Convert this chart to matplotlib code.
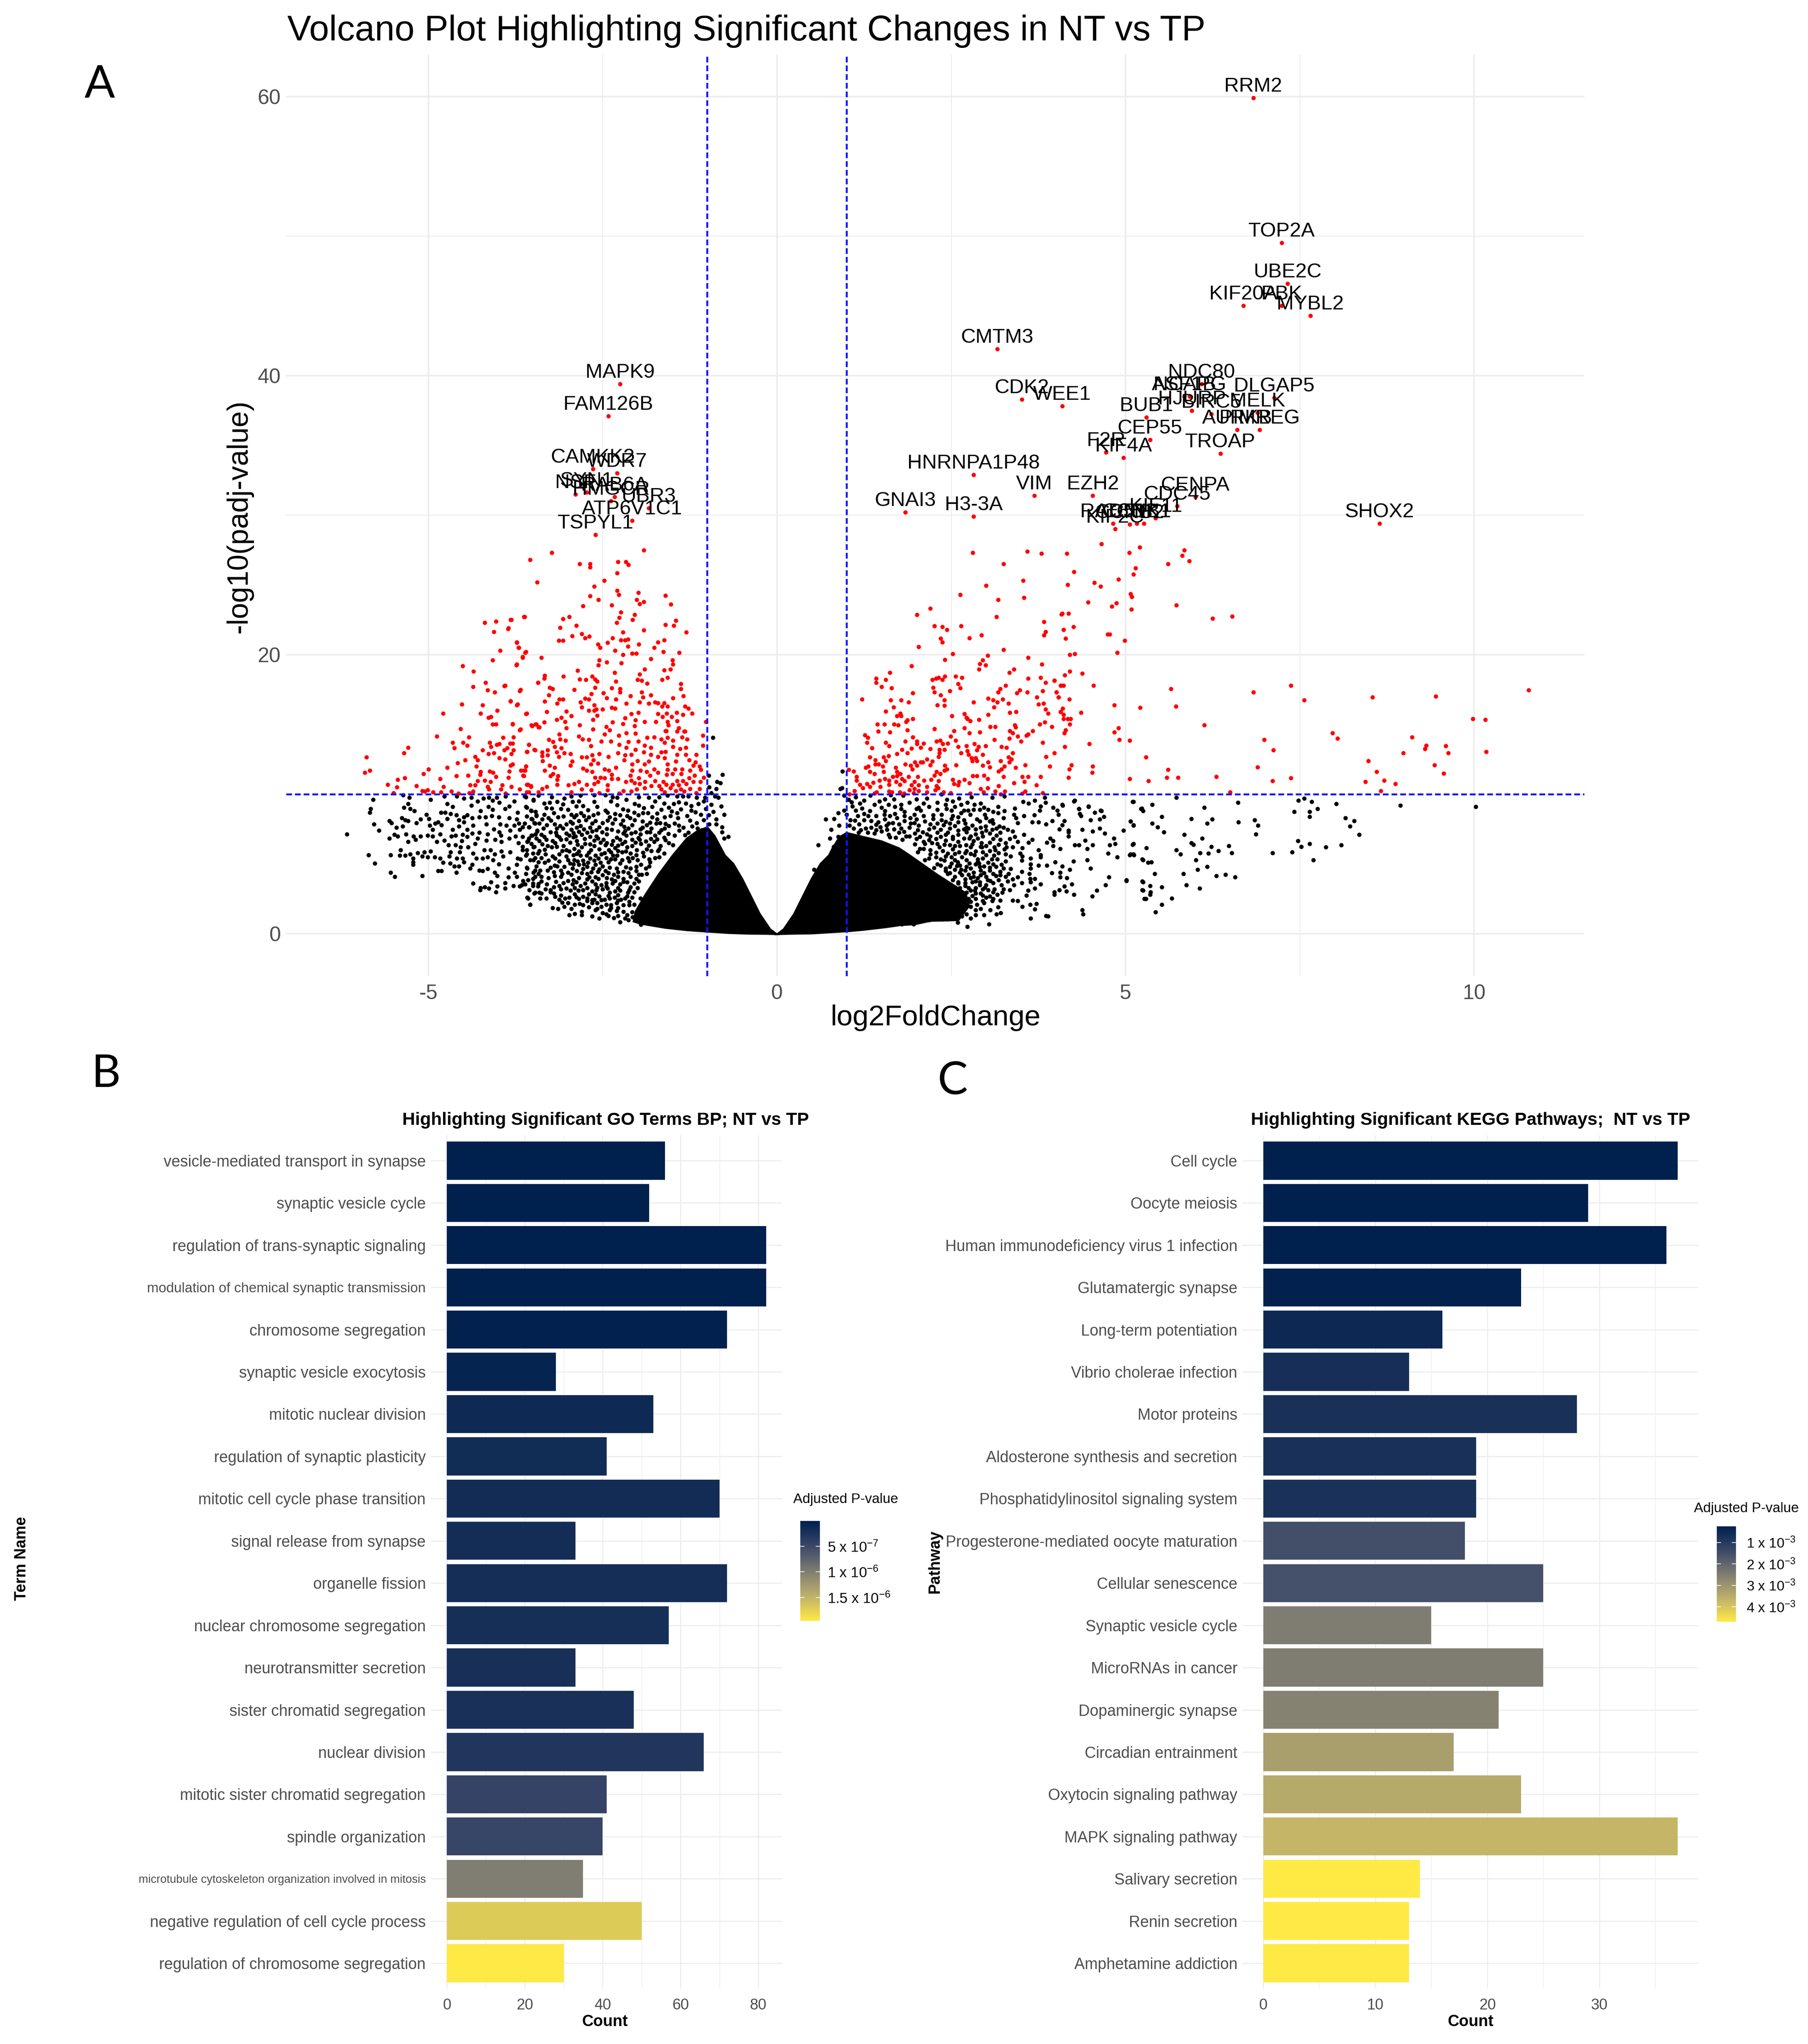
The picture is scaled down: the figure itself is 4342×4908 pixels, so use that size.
import numpy as np
import matplotlib
matplotlib.use("Agg")
import matplotlib.pyplot as plt
from matplotlib.colors import LinearSegmentedColormap, Normalize
from matplotlib.cm import ScalarMappable

W, H = 4342, 4908
DPI = 300
plt.rcParams['font.family'] = ['Liberation Sans', 'DejaVu Sans']
plt.rcParams['mathtext.fontset'] = 'custom'
plt.rcParams['mathtext.rm'] = 'Liberation Sans'
plt.rcParams['mathtext.default'] = 'regular'

# ---------- volcano data ----------
gene_names = ["RRM2","TOP2A","UBE2C","PBK","KIF20A","MYBL2","CMTM3","NDC80","NCAPG","ASF1B","HJURP","BIRC5","MELK","DLGAP5",
              "BUB1","AURKB","PIMREG","CEP55","TROAP","F2R","KIF4A","HNRNPA1P48","VIM","EZH2","CENPA","CDC45","KIF11","RAD51",
              "KIF2C","CCNB2","CCNB1","CDK1","GNAI3","H3-3A","SHOX2","WEE1","CDK2",
              "MAPK9","FAM126B","CAMKK2","WDR7","SYN1","NSF","RAB6A","HMGCR","UBR3","ATP6V1C1","TSPYL1"]
gene_x = [6.83,7.24,7.32,7.24,6.69,7.65,3.16,6.09,5.92,5.84,5.95,6.23,6.89,7.13,
          5.3,6.6,6.92,5.35,6.36,4.72,4.97,2.82,3.69,4.53,6.0,5.74,5.43,4.82,
          4.85,5.06,5.16,5.26,1.84,2.82,8.64,4.09,3.51,
          -2.25,-2.42,-2.64,-2.29,-2.73,-2.89,-2.33,-2.38,-1.84,-2.08,-2.6]
gene_y = [59.9,49.5,46.6,45.0,45.0,44.3,41.9,39.4,38.5,38.5,37.5,37.25,37.35,38.4,
          37.0,36.1,36.1,35.4,34.4,34.5,34.1,32.9,31.4,31.4,31.3,30.65,29.8,29.4,
          29.0,29.35,29.4,29.4,30.2,29.9,29.4,37.8,38.3,
          39.4,37.1,33.3,33.0,31.65,31.5,31.3,31.0,30.5,29.6,28.6]

red_far_left = [(-4.19,22.3),(-4.03,22.4),(-3.81,22.5),(-3.62,22.7),(-4.06,21.65),(-3.85,21.9),(-3.73,20.9),(-3.70,20.5),(-3.97,20.3),(-3.60,20.2),
(-3.65,19.85),(-4.08,19.6),(-3.73,19.3),(-4.51,19.2),(-4.35,18.8),(-4.18,18.0),(-4.36,17.7),(-3.90,17.8),(-4.15,17.45),(-4.05,17.3),(-3.68,17.5),(-3.43,18.0),
(-3.82,16.7),(-4.52,16.45),(-4.22,16.4),(-3.72,16.45),(-4.01,16.0),(-4.79,15.8),(-4.25,15.8),(-3.59,15.8),(-4.14,15.5),(-4.10,15.55),(-4.08,15.0),(-4.03,15.0),
(-3.79,15.0),(-3.51,14.9),(-3.45,15.0),(-3.41,14.8),(-4.54,14.7),(-3.68,14.65),(-4.88,14.15),(-4.42,14.1),(-3.93,14.05),(-3.78,14.1),(-4.65,13.7),(-4.50,13.7),
(-4.44,13.5),(-4.63,13.3),(-4.12,13.7),(-4.10,13.4),(-4.02,13.55),(-3.98,13.6),(-3.83,13.65),(-3.79,13.65),(-3.56,13.55),(-5.29,13.35),(-5.35,12.95),(-5.89,12.65),
(-4.22,13.15),(-4.14,12.9),(-4.06,12.95),(-3.91,13.15),(-3.87,13.3),(-3.81,12.9),(-3.78,13.15),(-3.58,13.05),(-3.47,13.15),(-4.33,12.7),(-4.29,12.45),(-4.47,12.45),
(-4.58,12.25),(-3.98,12.6),(-3.9,12.5),(-4.31,12.0),(-4.73,11.9),(-3.82,12.05),(-3.79,12.15),(-3.6,12.0),(-5.0,11.8),(-5.84,11.7),(-5.91,11.55),(-4.25,11.6),
(-4.12,11.65),(-4.07,11.55),(-3.84,11.65),(-3.67,11.7),(-3.61,11.7),(-5.07,11.45),(-4.6,11.3),(-4.43,11.35),(-4.26,11.4),(-4.03,11.25),(-3.85,11.2),(-3.63,11.3),
(-5.34,11.15),(-5.44,11.05),(-4.83,11.1),(-4.29,10.95),(-4.19,11.0),(-4.11,10.9),(-5.58,10.7),(-4.40,10.65),(-4.33,10.65),(-3.94,10.65),(-3.57,10.7),(-3.53,10.55),
(-5.45,10.5),(-5.17,10.6),(-4.78,10.55),(-4.15,10.55),(-3.81,10.55),(-4.13,10.35),(-3.96,10.35),(-3.69,10.35),(-5.01,10.3),(-5.09,10.25),(-5.5,10.1),(-5.05,10.2),
(-4.93,10.15),(-4.82,10.15),(-4.67,10.2),(-4.36,10.2),(-4.41,10.1),(-4.57,10.05),(-3.89,10.05),(-3.59,10.15)]

red_mid_left = [(-1.91,27.5),(-3.23,27.3),(-3.54,26.8),(-2.83,26.5),(-2.68,26.5),(-2.68,26.25),(-2.28,26.65),(-2.17,26.65),(-2.13,26.45),(-2.29,25.85),(-3.44,25.2),
(-2.48,25.3),(-2.62,24.9),(-2.29,24.6),(-2.27,24.3),(-1.99,24.45),(-2.68,24.2),(-2.56,23.95),(-2.01,23.95),(-1.97,23.65),(-1.91,23.8),(-1.6,24.25),(-1.52,23.6),
(-2.78,23.5),(-2.37,23.55),(-2.24,23.05),(-2.04,22.85),(-2.26,22.65),(-2.07,22.5),(-2.3,22.3),(-1.45,22.45),(-3.63,22.7),(-3.82,22.5),(-2.98,22.7),(-3.07,22.55),
(-2.88,22.1),(-3.11,21.95),(-3.86,21.85),(-1.6,22.15),(-1.48,22.1),(-1.91,21.75),(-1.3,21.6),(-2.21,21.6),(-2.8,21.5),(-2.94,21.35),(-2.69,21.3),(-2.75,21.2),
(-2.36,21.2),(-2.14,21.1),(-2.24,21.05),(-2.18,21.05),(-3.13,21.0),(-3.07,21.0),(-1.62,21.05),(-1.71,20.9),(-2.57,20.75),(-2.43,20.85),(-1.98,20.75),(-2.54,20.5),
(-2.14,20.6),(-1.76,20.5),(-3.73,20.85),(-3.71,20.5),(-3.61,20.15),(-2.32,20.3),(-1.63,20.2),(-1.4,20.15),(-2.08,20.1),(-2.02,20.1),(-2.21,20.0),(-3.38,19.8),
(-3.65,19.8),(-2.55,19.6),(-1.81,19.7),(-1.5,19.6),(-2.56,19.25),(-2.44,19.45),(-2.23,19.4),(-1.49,19.3),(-3.74,19.25),(-1.9,18.95),(-2.86,18.85),(-1.62,18.9),
(-1.53,18.95),(-2.33,18.7),(-1.97,18.6),(-3.33,18.5),(-3.06,18.45),(-2.65,18.44),(-1.57,18.35),(-3.34,18.3),(-2.83,18.25),(-2.74,18.2),(-2.61,18.25),(-2.58,18.1),
(-1.65,18.2),(-2.0,18.2),(-1.94,18.15),(-2.31,18.1),(-1.86,17.95),(-1.38,17.9),(-3.43,18.0),(-3.91,17.75),(-3.26,17.65),(-3.22,17.55),(-2.37,17.6),(-2.25,17.55),
(-2.61,17.65),(-3.69,17.4),(-2.91,17.5),(-1.38,17.55),(-1.94,17.3),(-2.25,17.3),(-2.66,17.2),(-2.49,17.25),(-1.81,17.1),(-1.34,17.05),(-3.27,17.1),(-1.92,16.95),
(-1.49,16.9),(-2.1,17.05),(-2.44,16.9),(-2.75,16.85),(-2.7,16.8),(-2.31,16.8),(-3.12,16.8),(-3.07,16.8),(-3.82,16.65),(-3.33,16.65),(-2.82,16.6),(-3.15,16.5),
(-3.73,16.4),(-2.16,16.5),(-1.97,16.6),(-1.84,16.5),(-1.75,16.6),(-1.71,16.55),(-1.62,16.55),(-1.57,16.3),(-2.62,16.4),(-2.8,16.25),(-1.65,16.3),(-1.32,16.3),
(-1.27,16.15),(-2.5,16.1),(-2.37,16.2),(-2.32,16.15),(-2.62,16.0),(-2.59,16.1),(-2.7,16.0),(-3.3,15.9),(-3.02,15.95),(-1.22,15.8),(-1.35,15.7),(-1.44,15.85),
(-3.6,15.75),(-2.58,15.65),(-2.09,15.75),(-1.99,15.85),(-1.71,15.75),(-1.58,15.8),(-1.64,15.55),(-1.51,15.55),(-2.95,15.6),(-3.09,15.5),(-3.16,15.35),(-2.64,15.35),
(-2.18,15.45),(-2.03,15.3),(-1.9,15.2),(-1.74,15.2),(-1.57,15.2),(-1.43,15.25),(-1.02,15.2),(-3.34,15.15),(-3.04,15.2),(-2.36,15.15),(-2.21,15.05),(-3.79,15.05),
(-3.52,14.95),(-3.46,15.0),(-3.42,14.8),(-2.83,14.95),(-2.45,14.85),(-2.04,14.9),(-1.56,14.95),(-1.41,14.75),(-3.69,14.6),(-3.02,14.75),(-2.64,14.65),(-2.4,14.6),
(-1.6,14.55),(-1.33,14.5)]

red_low_left = [(-3.12,14.3),(-3.56,13.55),(-3.59,13.05),(-3.48,13.2),(-3.37,13.0),(-3.29,13.15),(-3.27,13.9),(-3.21,13.75),(-3.19,13.4),(-3.11,13.95),(-3.03,13.85),
(-3.09,13.3),(-3.05,12.95),(-3.16,13.0),(-3.13,12.7),(-3.37,12.75),(-3.29,12.8),(-2.96,12.9),(-3.36,12.4),(-2.94,12.35),(-2.96,12.05),(-3.26,12.05),(-3.6,12.0),
(-3.19,11.9),(-3.33,11.7),(-3.63,11.7),(-3.64,11.35),(-3.25,11.3),(-3.21,11.45),(-3.14,11.3),(-3.15,11.05),(-3.15,10.7),(-3.59,10.7),(-3.53,10.6),(-3.56,10.15),
(-3.37,10.4),(-3.3,10.55),(-3.42,10.15),(-2.99,10.65),(-2.91,10.75),(-2.84,10.9),(-2.95,10.15),(-2.8,10.35),(-2.73,10.7),(-2.84,14.15),(-2.79,13.95),(-2.7,13.9),
(-2.67,13.45),(-2.8,12.65),(-2.73,12.65),(-2.65,12.8),(-2.55,12.9),(-2.63,12.45),(-2.67,12.15),(-2.57,12.2),(-2.78,11.85),(-2.73,11.7),(-2.65,11.6),(-2.47,11.8),
(-2.41,11.7),(-2.31,11.9),(-2.37,11.4),(-2.61,11.2),(-2.53,11.2),(-2.47,11.15),(-2.37,11.1),(-2.28,11.1),(-2.43,10.65),(-2.62,10.75),(-2.57,10.9),(-2.66,10.3),
(-2.55,10.1),(-2.43,10.3),(-2.47,14.3),(-2.52,13.8),(-2.38,13.8),(-2.42,12.7),(-2.27,14.2),(-2.26,13.55),(-2.28,12.95),(-2.16,14.4),(-2.13,13.75),(-2.03,14.35),
(-1.99,13.8),(-2.16,13.35),(-2.03,13.2),(-1.9,13.5),(-2.18,12.8),(-2.09,12.85),(-2.19,12.45),(-2.0,12.4),(-2.08,12.15),(-1.9,12.15),(-1.84,12.35),(-1.91,13.0),
(-1.81,13.35),(-1.86,14.05),(-1.76,14.1),(-1.66,13.95),(-1.57,14.05),(-1.61,13.7),(-1.49,13.85),(-1.36,14.1),(-1.29,13.95),(-1.43,14.5),(-1.32,14.5),(-1.59,14.55),
(-1.06,14.2),(-1.06,13.5),(-1.49,13.4),(-1.39,13.25),(-1.31,13.35),(-1.6,13.05),(-1.66,13.0),(-1.81,12.85),(-1.71,12.7),(-1.61,12.6),(-1.43,12.85),(-1.31,12.85),
(-1.16,12.85),(-1.45,12.35),(-1.26,12.45),(-1.17,12.3),(-1.57,12.15),(-1.2,12.05),(-1.11,12.0),(-2.08,11.7),(-1.96,11.7),(-2.1,11.35),(-1.87,11.6),(-1.76,11.8),
(-1.57,11.75),(-1.46,11.8),(-1.36,11.8),(-1.25,11.7),(-1.09,11.75),(-1.82,11.35),(-1.71,11.55),(-1.58,11.4),(-1.5,11.45),(-1.37,11.45),(-1.18,11.35),(-1.05,11.2),
(-1.98,11.15),(-2.09,11.0),(-2.17,10.9),(-2.04,10.8),(-1.89,10.9),(-1.75,10.95),(-1.63,10.9),(-1.43,10.95),(-1.35,10.95),(-1.26,11.15),(-1.2,10.9),(-1.1,10.9),
(-1.97,10.75),(-1.8,10.6),(-1.69,10.6),(-1.59,10.7),(-1.5,10.7),(-1.41,10.65),(-1.3,10.75),(-1.9,10.45),(-1.66,10.35),(-1.53,10.45),(-1.38,10.35),(-1.25,10.4),
(-1.11,10.4),(-2.09,10.2),(-2.01,10.35),(-2.2,10.25),(-2.26,10.05),(-1.61,10.15),(-1.45,10.25),(-1.33,10.2),(-1.16,10.1)]

red_inner_right = [(2.81,27.3),(3.59,27.4),(3.79,27.25),(3.25,26.5),(3.53,25.3),(3.0,24.95),(3.54,24.1),(2.63,24.3),(3.17,23.95),(2.2,23.3),(2.01,22.85),(3.15,22.7),
(3.83,22.35),(4.08,22.9),(3.85,21.65),(3.83,21.4),(2.26,22.05),(2.37,22.0),(2.44,21.8),(2.64,22.05),(2.35,21.15),(2.37,20.9),(2.03,20.55),(2.76,21.2),(2.93,21.4),
(3.25,20.35),(2.52,20.05),(3.02,19.95),(3.6,19.8),(2.41,19.65),(2.95,19.6),(2.91,19.35),(2.99,19.25),(3.8,19.3),(1.93,19.2),(2.9,18.95),(3.4,18.95),(3.33,18.7),
(1.62,18.7),(1.42,18.3),(1.42,18.0),(1.56,18.2),(1.5,17.7),(1.64,17.6),(2.23,18.2),(2.28,18.3),(2.32,18.35),(2.37,18.2),(2.41,18.45),(2.56,18.45),(2.65,18.35),
(3.6,18.3),(3.78,18.35),(3.98,18.15),(3.85,18.0),(4.07,17.8),(2.6,17.9),(2.63,17.6),(3.28,17.8),(3.2,17.55),(3.17,17.3),(3.48,17.45),(3.44,17.25),(3.81,17.4),
(3.59,17.3),(4.01,17.3),(4.04,16.95),(2.24,17.65),(2.26,17.3),(2.48,17.4),(2.35,17.1),(1.95,17.25),(1.22,16.8),(1.63,16.75),(1.78,16.75),(1.89,16.6),(2.4,16.75),
(2.3,16.4),(2.4,16.35),(2.82,16.6),(3.03,16.85),(3.1,16.75),(3.16,16.6),(3.24,16.8),(3.32,16.5),(3.73,16.95),(3.75,16.45),(3.82,16.5),(3.85,16.1),(3.11,16.25),
(1.67,16.25),(1.56,15.95),(1.77,15.8),(1.72,15.6),(1.78,15.6),(3.34,15.85),(3.43,15.9),(3.89,15.8),(4.07,15.9),(2.69,15.75),(2.51,15.6),(3.03,15.7),(2.72,15.5),
(2.73,15.4),(2.77,15.25),(2.9,15.35),(1.87,15.3),(1.85,15.2),(1.95,15.4),(1.44,15.0),(1.54,15.0),(1.68,15.0),(1.74,14.95),(3.77,15.0),(3.84,15.15),(3.94,14.85),
(3.41,14.95),(3.42,14.8),(2.26,14.7),(1.87,14.6),(2.69,14.75),(3.06,14.85),(3.13,14.85),(1.45,14.5),(1.62,14.45),(2.54,14.55),(2.76,14.4),(2.91,14.45),(3.34,14.55),
(3.38,14.4),(3.67,14.55),(3.6,14.3),(3.58,14.2),(1.26,14.25),(1.3,14.05),(2.49,14.15),(3.45,14.15),(1.95,14.1),(3.33,14.0),(2.56,13.85),(1.84,13.8),(2.01,13.8),
(2.29,13.8),(2.34,13.85),(3.12,13.9),(3.5,13.8),(1.29,13.7),(1.56,13.7),(2.1,13.65),(2.38,13.6),(2.45,13.65),(2.83,13.6),(3.81,13.7),(2.01,13.6),(1.61,13.45),
(2.99,13.45),(2.6,13.4),(2.72,13.45),(2.89,13.4),(3.22,13.4),(3.29,13.35),(2.06,13.35),(1.36,13.3),(1.93,13.28),(2.2,13.25),(1.79,13.2),(2.33,13.2),(2.4,13.2),
(2.87,13.15),(2.73,13.1),(1.87,12.95),(2.64,12.95),(3.38,12.95),(3.98,12.95),(1.72,12.9),(2.33,12.95),(2.75,12.85),(2.95,12.85),(1.6,12.75),(1.33,12.65),(2.32,12.7),
(1.53,12.65),(3.86,12.7),(2.79,12.6),(2.85,12.6),(3.32,12.65),(1.41,12.45),(1.56,12.4),(2.15,12.5),(2.8,12.4),(2.87,12.4),(3.36,12.5),(3.21,12.4),(1.98,12.3),
(2.06,12.3),(2.09,12.3),(2.23,12.35),(3.03,12.3),(3.33,12.3),(1.41,12.15),(1.46,12.15),(1.84,12.15),(2.01,12.05),(2.2,12.1),(2.57,12.1),(3.56,12.1),(1.92,12.05),
(2.41,12.05),(2.95,12.05),(3.26,12.0),(3.91,12.0),(1.31,12.0),(1.52,12.0),(3.05,11.95),(3.42,11.9),(1.27,11.9),(1.7,11.9),(1.94,11.8),(2.44,11.8),(3.22,11.8),
(3.18,11.65),(1.03,11.75),(1.1,11.65),(1.33,11.6),(1.53,11.6),(1.72,11.6),(2.29,11.6),(2.4,11.7),(2.34,11.45),(1.4,11.45),(1.77,11.45),(2.26,11.35),(2.97,11.35),
(1.14,11.25),(1.66,11.25),(1.72,11.3),(1.89,11.25),(2.02,11.25),(2.81,11.3),(2.87,11.3),(3.25,11.25),(3.52,11.25),(3.6,11.25),(3.78,11.25),(1.61,11.0),(1.55,11.1),
(1.79,11.1),(2.11,11.0),(2.21,11.05),(2.32,10.95),(2.52,11.05),(2.69,11.05),(3.02,11.1),(1.14,11.0),(1.47,11.0),(1.71,10.9),(1.83,10.95),(1.97,10.9),(2.61,10.9),
(1.38,10.85),(3.55,10.9),(1.29,10.75),(3.4,10.8),(2.76,10.8),(1.61,10.7),(1.76,10.7),(1.19,10.7),(2.54,10.75),(1.93,10.65),(2.03,10.65),(2.29,10.6),(2.6,10.65),
(3.72,10.65),(1.33,10.55),(1.48,10.55),(2.15,10.55),(3.18,10.6),(1.23,10.45),(2.92,10.4),(3.02,10.45),(2.31,10.45),(1.97,10.4),(1.9,10.3),(2.27,10.3),(2.03,10.25),
(1.11,10.25),(1.61,10.2),(3.13,10.2),(1.65,10.15),(3.27,10.2),(1.43,10.15),(1.76,10.15),(1.96,10.1),(2.15,10.15),(2.39,10.15),(2.49,10.1),(2.96,10.15),(3.56,10.2),
(3.81,10.1),(3.52,10.05),(2.77,10.05),(1.04,10.0),(1.4,10.05),(1.82,10.05),(3.21,10.0)]

red_outer_right = [(4.65,27.95),(5.2,27.7),(5.05,27.3),(5.84,27.5),(5.81,27.1),(5.91,26.7),(4.16,27.25),(5.61,26.5),(4.26,25.95),(5.14,26.2),(5.11,25.75),(4.9,25.4),
(4.55,25.15),(4.64,24.9),(4.17,25.0),(5.07,24.35),(5.09,24.15),(4.46,23.75),(4.87,23.7),(4.8,23.45),(5.73,23.55),(5.08,23.25),(6.25,22.6),(6.53,22.75),(4.09,22.95),
(4.18,22.95),(4.25,22.0),(4.11,21.8),(4.74,21.45),(4.77,21.45),(4.14,21.15),(4.99,21.0),(4.88,20.15),(4.2,20.0),(4.27,20.05),(4.2,18.8),(4.13,18.55),(4.38,18.65),
(3.98,18.15),(4.08,17.8),(4.11,17.8),(4.54,17.8),(4.01,17.3),(4.04,16.95),(4.19,16.8),(4.84,16.4),(4.1,16.15),(4.07,15.9),(4.11,15.7),(4.36,15.85),(4.11,15.4),
(4.17,15.4),(4.21,15.4),(4.2,15.0),(4.9,14.75),(4.84,14.45),(4.14,14.6),(4.12,14.4),(4.91,13.9),(4.48,13.6),(4.13,13.4),(4.22,12.1),(4.53,12.0),(4.19,11.8),
(4.52,11.55),(4.18,11.2),
(5.65,17.55),(5.21,16.2),(5.72,16.3),(6.83,17.3),(7.37,17.8),(7.56,16.75),(8.54,16.95),(9.45,17.0),(10.78,17.45),(6.13,14.95),(5.06,13.85),(6.99,13.9),(7.12,13.15),
(7.97,14.4),(8.04,14.0),(9.11,14.1),(9.31,13.5),(9.29,13.25),(9.59,13.45),(9.63,12.95),(8.98,12.95),(8.48,12.4),(9.43,12.1),(8.6,11.6),(9.56,11.5),(9.98,15.4),
(10.16,15.35),(10.17,13.05),(5.29,12.65),(5.61,11.75),(5.06,11.1),(5.33,10.95),(5.59,11.2),(5.75,11.2),(6.3,11.25),(6.89,11.95),(7.11,10.95),(7.37,11.15),(8.44,10.9),
(8.71,11.0),(8.87,10.75),(8.66,10.25),(6.5,10.15)]

black_far_left = [(-6.17,7.15),(-5.79,9.6),(-5.83,8.95),(-5.84,8.7),(-5.78,7.85),(-5.71,7.4),(-5.86,5.65),(-5.77,5.05),(-5.54,4.4),(-5.48,4.1),(-5.09,4.15),(-5.54,5.65),
(-5.4,6.0),(-5.41,5.6),(-5.33,5.6),(-5.26,5.7),(-5.15,5.8),(-5.06,5.85),(-4.97,5.9),(-5.22,5.4),(-5.22,5.15),(-5.22,4.95),(-5.09,5.55),(-5.01,5.5),(-4.91,5.5),(-4.83,5.4),
(-4.79,5.1),(-4.69,5.05),(-4.63,4.85),(-4.56,4.85),(-4.6,4.4),(-4.86,4.5),(-4.81,4.5),(-5.56,8.1),(-5.53,7.95),(-5.46,7.6),(-5.37,7.7),(-5.49,7.1),(-5.44,7.0),(-5.56,6.85),
(-5.32,7.15),(-5.29,6.6),(-5.21,7.0),(-5.18,6.75),(-5.11,7.0),(-5.01,7.05),(-4.94,7.0),(-5.38,8.3),(-5.33,8.15),(-5.29,8.1),(-5.17,7.95),(-5.11,8.2),(-5.03,8.55),(-4.99,8.25),
(-4.98,7.75),(-4.94,7.45),(-4.9,7.9),(-4.86,8.0),(-4.81,7.8),(-4.88,6.6),(-4.83,7.15),(-4.77,6.7),(-5.35,9.05),(-5.29,9.3),(-5.26,8.95),(-5.2,8.8),(-5.36,9.95),(-5.27,9.75),
(-4.97,9.6),(-4.77,9.85),(-4.82,8.7),(-4.76,8.7),(-4.68,8.6),(-4.73,8.25),(-4.73,9.3),(-4.65,9.1),(-4.59,9.85),(-4.49,9.7),(-4.38,9.75),(-4.38,9.2),(-4.29,9.5),(-4.21,9.7),
(-4.13,9.75),(-4.08,9.55),(-4.02,9.75),(-3.98,9.4),(-3.89,9.85),(-3.9,8.95),(-3.84,9.15),(-3.77,9.5),(-3.6,9.8),(-3.49,9.55),(-3.59,9.05),(-4.14,9.1),(-4.08,8.9),(-4.25,8.8),
(-3.72,8.7),(-3.52,8.8),(-3.45,8.5),(-4.6,8.5),(-4.44,8.5),(-4.56,8.15),(-4.49,8.35),(-4.37,8.3),(-4.27,8.35),(-4.18,8.35),(-4.09,8.45),(-3.99,8.35),(-3.84,8.3),(-3.73,8.2),
(-3.51,8.2),(-4.49,8.0),(-4.36,7.75),(-4.17,7.85),(-3.97,7.85),(-3.88,7.75),(-3.77,7.75),(-3.7,7.9),(-3.47,7.9),(-4.56,7.7),(-4.65,7.45),(-4.44,7.45),(-4.27,7.25),(-4.06,7.5),
(-3.98,7.3),(-3.83,7.4),(-3.69,7.45),(-3.55,7.65),(-3.44,7.4),(-4.67,7.0),(-4.61,7.05),(-4.51,7.1),(-4.44,6.95),(-4.37,7.2),(-4.15,7.15),(-3.96,7.05),(-3.75,7.0),(-3.51,7.05),
(-4.71,6.35),(-4.52,6.65),(-4.29,6.85),(-4.17,6.7),(-4.04,6.75),(-3.95,6.6),(-3.84,6.85),(-3.71,6.5),(-3.57,6.65),(-4.61,6.35),(-4.43,6.2),(-4.33,6.45),(-4.54,6.2),(-4.2,6.0),
(-4.11,6.0),(-3.95,5.9),(-3.83,5.85),(-3.65,6.0),(-3.49,6.2),(-4.68,5.85),(-4.55,5.85),(-4.36,5.75),(-4.05,5.7),(-3.72,5.4),(-3.59,5.7),(-3.43,5.75),(-4.7,5.55),(-4.59,5.4),
(-4.51,5.4),(-4.31,5.4),(-4.22,5.4),(-4.15,5.5),(-4.07,5.3),(-3.93,5.55),(-3.49,5.3),(-4.49,5.15),(-3.99,5.0),(-3.73,4.95),(-4.37,4.95),(-4.4,4.7),(-4.27,4.55),(-4.22,4.5),
(-4.15,4.65),(-4.05,4.4),(-4.01,4.15),(-3.85,4.7),(-3.58,4.7),(-3.76,4.4),(-3.85,4.05),(-3.73,4.1),(-3.47,4.55),(-3.47,4.1),(-4.36,3.6),(-4.25,3.3),(-4.19,3.35),(-4.13,3.25),
(-4.1,3.7),(-4.01,3.4),(-4.03,3.0),(-4.26,3.15),(-3.9,3.65),(-3.9,3.25),(-3.78,3.45),(-3.69,3.4),(-3.61,3.55),(-3.5,3.45),(-3.57,2.55),(-3.54,2.1),(-3.47,2.95),(-3.41,2.95)]

black_mid_left = [(-3.62,9.85),(-3.49,9.6),(-3.42,9.9),(-3.23,9.8),(-3.05,9.7),(-2.95,9.85),(-2.82,9.9),(-2.62,9.95),(-2.46,9.95),(-2.36,9.8),(-2.29,9.75),(-2.16,9.6),(-1.98,9.8),
(-1.84,9.75),(-1.69,9.8),(-1.57,9.9),(-3.34,9.35),(-3.26,9.4),(-3.15,9.45),(-2.93,9.45),(-2.84,9.5),(-2.62,9.45),(-2.38,9.5),(-2.04,9.3),(-1.98,9.2),(-1.75,9.5),(-3.6,9.1),
(-3.53,8.85),(-3.46,8.75),(-3.23,9.0),(-3.1,8.95),(-3.0,8.9),(-2.88,9.15),(-2.46,8.85),(-2.14,8.85),(-1.79,9.1),(-1.66,8.9),(-1.48,9.3),(-1.55,9.05),(-3.45,8.45),(-3.34,8.55),
(-3.2,8.65),(-2.95,8.55),(-2.81,8.65),(-2.63,8.5),(-2.43,8.7),(-2.32,8.6),(-2.25,8.5),(-2.05,8.7),(-1.92,8.65),(-1.85,8.65),(-3.52,8.25),(-3.28,8.3),(-3.14,8.35),(-2.91,8.35),
(-2.7,8.35),(-2.15,8.45),(-1.79,8.35),(-1.61,8.35),(-3.48,7.95),(-3.41,7.9),(-2.84,8.1),(-2.74,8.15),(-2.32,8.2),(-2.04,8.15),(-1.93,8.05),(-3.19,7.85),(-3.02,7.85),(-2.65,7.9),
(-2.36,7.9),(-2.24,7.85),(-1.68,7.95),(-3.56,7.65),(-3.65,7.65),(-3.35,7.55),(-3.16,7.55),(-2.87,7.6),(-2.55,7.65),(-2.77,7.5),(-2.13,7.55),(-1.93,7.6),(-1.8,7.55),(-3.44,7.35),
(-3.07,7.55),(-2.95,7.45),(-2.65,7.35),(-2.28,7.35),(-2.03,7.3),(-1.61,7.55),(-3.52,7.05),(-3.65,6.95),(-3.34,6.95),(-3.16,7.05),(-2.98,7.05),(-2.89,7.0),(-2.8,7.1),(-2.44,7.15),
(-2.59,7.0),(-2.16,7.05),(-1.82,7.3),(-1.69,7.25),(-3.56,6.85),(-3.41,6.65),(-3.22,6.65),(-3.1,6.75),(-2.87,6.65),(-2.25,6.75),(-1.97,6.75),(-2.08,6.75),(-2.53,6.55),(-2.44,6.5),
(-3.48,6.25),(-3.65,6.25),(-3.29,6.3),(-3.16,6.25),(-2.97,6.55),(-2.75,6.45),(-2.22,6.45),(-1.76,6.6),(-1.95,6.45),(-2.46,6.35),(-3.59,6.0),(-3.41,5.95),(-3.08,5.95),(-2.98,5.9),
(-2.84,5.9),(-2.67,6.0),(-2.32,6.15),(-2.55,6.05),(-1.87,6.05),(-1.69,6.05),(-3.32,5.7),(-3.6,5.6),(-2.82,5.6),(-2.73,5.6),(-2.52,5.7),(-2.38,5.85),(-2.22,5.85),(-2.1,5.75),
(-3.68,5.35),(-3.54,5.3),(-3.42,5.15),(-3.28,5.25),(-3.02,5.55),(-2.91,5.3),(-2.78,5.25),(-2.62,5.25),(-2.32,5.35),(-2.0,5.3),(-1.82,5.15),(-3.19,4.9),(-3.59,4.75),(-3.05,4.8),
(-2.84,4.95),(-2.72,4.8),(-2.5,4.85),(-2.1,4.7),(-3.49,4.4),(-3.29,4.55),(-3.0,4.4),(-2.8,4.35),(-2.57,4.45),(-2.34,4.25),(-1.94,4.25),(-3.38,4.1),(-3.19,4.15),(-2.69,4.05),
(-2.44,4.0),(-2.2,3.95),(-3.64,3.8),(-3.57,3.85),(-3.38,3.75),(-3.06,3.65),(-2.92,3.85),(-2.56,3.95),(-1.98,3.75),(-3.66,3.5),(-3.43,3.4),(-3.2,3.35),(-2.82,3.45),(-2.43,3.25),
(-2.1,3.35),(-3.32,3.2),(-3.48,2.9),(-3.38,2.9),(-3.2,2.9),(-2.96,3.1),(-2.7,2.85),(-2.59,3.15),(-2.32,3.05),(-2.14,2.95),(-3.58,2.6),(-3.31,2.55),(-3.18,2.65),(-3.04,2.55),
(-2.84,2.5),(-2.62,2.45),(-2.4,2.55),(-2.24,2.45),(-1.96,2.55),(-3.54,2.1),(-3.08,2.25),(-2.83,2.15),(-2.65,2.2),(-2.52,1.95),(-2.38,2.05),(-2.12,2.05),(-3.22,1.85),(-3.14,1.8),
(-3.05,1.95),(-2.7,1.9),(-2.3,1.65),(-2.08,1.55),(-2.8,1.6),(-2.9,1.45),(-2.98,1.35),(-2.8,1.35),(-2.65,1.25),(-2.55,1.1),(-2.42,1.3),(-2.34,1.15),(-2.25,.85),(-2.13,1.0),
(-1.99,.95),(-1.95,.65),
(-.92,14.05),(-.98,11.35),(-.78,11.4),(-.86,10.9),(-.81,10.8),(-.97,10.5),(-.87,10.4),(-.94,10.1),(-.89,9.85),(-1.03,9.75),(-.84,9.75),(-.8,9.15),(-.94,9.25),(-1.02,8.95),(-.91,8.75),
(-.98,8.5),(-.76,8.55),(-.87,8.2),(-1.05,8.15),(-.79,7.65),(-.79,7.3),(-.7,6.95),(-.76,6.85),(-1.15,9.75),(-1.27,9.85),(-1.05,9.5),(-1.13,9.3),(-1.43,9.85),(-1.35,9.85),(-1.31,9.35),
(-1.23,8.85),(-1.09,8.55),(-1.43,8.65),(-1.29,8.45),(-1.53,8.45),(-1.15,7.95),(-1.41,7.75),(-.97,7.85),(-.87,7.85)]

black_fill_left = [(-3.31,9.02),(-3.07,9.28),(-2.78,9.17),(-2.71,8.88),(-2.58,9.11),(-2.29,9.22),(-2.21,8.93),(-1.91,9.02),(-1.62,9.35),(-1.41,9.42),(-1.23,9.18),(-1.17,8.72),(-1.38,8.93),(-1.51,8.77),(-1.72,8.62),
(-1.99,8.52),(-2.11,8.31),(-2.4,8.35),(-2.57,8.62),(-2.77,8.44),(-2.88,8.52),(-3.06,8.41),(-3.24,8.12),(-3.37,8.2),(-3.59,8.41),(-3.62,7.9),(-3.3,7.8),(-3.11,7.72),(-2.93,7.9),(-2.82,7.72),(-2.68,7.62),(-2.5,7.95),
(-2.44,7.52),(-2.19,7.68),(-2.08,7.8),(-1.87,7.78),(-1.73,7.92),(-1.55,7.72),(-1.47,7.92),(-1.34,7.62),(-1.22,7.7),(-1.08,7.42),(-3.46,7.15),(-3.25,7.3),(-3.02,7.2),(-2.84,7.32),(-2.72,7.25),(-2.51,7.3),(-2.37,7.45),
(-2.2,7.2),(-2.09,7.2),(-1.96,7.15),(-1.87,7.3),(-1.75,7.05),(-1.56,7.18),(-1.47,7.05),(-3.58,6.6),(-3.31,6.75),(-3.02,6.78),(-2.92,6.92),(-2.76,6.82),(-2.62,6.7),(-2.49,6.75),(-2.35,6.65),(-2.18,6.6),(-2.03,6.55),
(-1.88,6.62),(-1.81,6.82),(-1.62,6.9),(-1.55,6.5),(-3.52,6.45),(-3.23,6.2),(-3.06,6.3),(-2.91,6.1),(-2.8,6.2),(-2.62,6.3),(-2.41,6.0),(-2.28,5.95),(-2.15,6.2),(-2.01,6.0),(-1.8,5.95),(-1.62,5.75),(-3.5,5.75),(-3.22,5.55),
(-3.12,5.7),(-2.92,5.65),(-2.6,5.6),(-2.45,5.45),(-2.29,5.6),(-2.14,5.45),(-2.02,5.65),(-1.91,5.55),(-1.75,5.45),(-3.47,5.45),(-3.33,5.1),(-3.12,5.2),(-2.97,5.05),(-2.86,5.2),(-2.71,5.1),(-2.53,5.1),(-2.42,5.15),(-2.25,5.05),
(-2.12,5.2),(-1.95,4.95),(-1.83,4.85),(-3.6,4.3),(-3.4,4.55),(-3.25,4.75),(-3.1,4.55),(-2.93,4.7),(-2.78,4.65),(-2.64,4.7),(-2.46,4.5),(-2.3,4.7),(-2.2,4.45),(-2.02,4.5),(-1.87,4.3),(-3.5,3.95),(-3.28,4.0),(-3.1,4.1),
(-2.95,4.25),(-2.84,4.0),(-2.72,4.3),(-2.6,4.05),(-2.5,4.2),(-2.37,3.9),(-2.28,4.1),(-2.1,4.1),(-2.02,3.95),(-3.5,3.6),(-3.3,3.55),(-3.12,3.45),(-3.0,3.8),(-2.88,3.7),(-2.75,3.6),(-2.65,3.75),(-2.52,3.5),(-2.36,3.6),
(-2.25,3.55),(-2.15,3.7),(-2.0,3.3),(-3.55,3.15),(-3.25,3.15),(-3.1,3.2),(-2.9,3.3),(-2.78,3.15),(-2.65,3.05),(-2.5,3.2),(-2.4,2.95),(-2.25,3.1),(-2.05,3.0),(-3.4,2.55),(-3.1,2.75),(-2.98,2.6),(-2.9,2.85),(-2.78,2.65),
(-2.55,2.7),(-2.47,2.45),(-2.33,2.6),(-2.18,2.55),(-2.08,2.6),(-3.0,2.2),(-2.9,2.1),(-2.72,2.35),(-2.58,2.2),(-2.45,2.1),(-2.3,2.2),(-2.2,2.05),(-2.05,2.1),(-2.95,1.8),(-2.6,1.7),(-2.5,1.5),(-2.4,1.7),(-2.2,1.6),(-2.15,1.35),
(-2.96,8.02),(-2.6,8.08),(-2.43,8.12),(-2.21,8.11),(-1.72,8.22),(-1.42,8.31),(-1.25,8.12),(-1.6,7.88),(-1.82,7.97),(-1.14,7.55),(-1.27,7.25),(-1.4,7.4),(-1.66,7.42),(-1.96,7.5),(-2.18,7.38),(-2.59,7.42),(-2.92,7.22),
(-3.17,7.27),(-3.38,7.12),(-1.32,7.08),(-1.6,6.72),(-1.72,6.78),(-1.99,6.88),(-2.3,6.9),(-2.57,6.85),(-2.68,6.95),(-3.12,6.92),(-3.45,6.85),(-1.49,6.35),(-1.67,6.3),(-1.84,6.32),(-2.08,6.3),(-2.28,6.32),(-2.37,6.4),
(-2.68,6.42),(-2.86,6.38),(-3.18,6.5),(-3.37,6.42),(-1.71,5.95),(-1.92,5.82),(-2.17,5.9),(-2.35,5.62),(-2.47,5.78),(-2.7,5.82),(-2.87,5.72),(-3.02,6.0),(-3.33,6.02),(-1.69,5.5),(-1.83,5.35),(-2.07,5.45),(-2.22,5.3),
(-2.38,5.35),(-2.56,5.4),(-2.68,5.42),(-3.0,5.28),(-3.18,5.4),(-3.38,5.45),(-1.88,4.7),(-2.02,4.82),(-2.17,4.78),(-2.4,4.75),(-2.6,4.95),(-2.77,5.0),(-2.92,4.98),(-3.15,4.85),(-3.45,4.85),(-1.98,4.25),(-2.13,4.35),
(-2.28,4.42),(-2.42,4.35),(-2.55,4.62),(-2.66,4.42),(-2.87,4.5),(-3.08,4.3),(-3.2,4.42),(-3.42,4.3),(-2.05,3.6),(-2.2,3.72),(-2.32,3.8),(-2.45,3.65),(-2.6,3.55),(-2.72,3.9),(-2.93,3.55),(-3.17,3.72),(-3.42,3.58),
(-2.12,3.15),(-2.28,3.3),(-2.45,3.4),(-2.58,3.32),(-2.72,3.3),(-2.85,3.1),(-3.02,3.25),(-3.25,2.98),(-2.15,2.7),(-2.28,2.78),(-2.42,2.72),(-2.6,2.85),(-2.72,2.55),(-2.88,2.62),(-3.12,2.45),(-2.12,2.3),(-2.28,2.4),
(-2.52,2.42),(-2.65,2.42),(-2.78,2.05),(-2.38,1.85),(-2.58,1.8),(-2.28,1.85),(-2.45,1.4),(-2.28,1.3),(-2.07,1.2),(-2.18,1.1)]

black_right = [(.7,8.2),(.59,6.35),(.53,4.6),(.89,7.75),(.91,10.4),(.93,10.45),(.94,11.65),(.96,9.9),(.82,8.25),(.88,8.65),(.96,8.85),(.78,7.45),(.76,6.85),(.88,6.95),(.81,6.25),(.88,5.85),
(1.03,9.6),(1.13,9.8),(1.34,9.9),(1.55,9.65),(1.63,9.95),(1.68,9.65),(1.81,9.9),(2.0,9.65),(2.15,9.7),(2.36,10.0),(2.44,9.6),(2.61,9.7),(2.79,9.8),(3.09,9.75),(3.26,9.85),(3.53,9.45),
(3.61,9.35),(3.7,9.55),(3.84,9.75),(3.85,9.4),(4.27,9.55),(5.1,9.45),(1.08,9.15),(1.19,9.35),(1.4,9.25),(1.69,9.1),(1.78,9.25),(2.03,9.05),(2.18,9.1),(2.42,9.25),(2.64,9.25),(2.73,9.4),
(2.92,9.35),(3.17,9.1),(3.41,9.0),(3.78,9.15),(4.09,9.25),(3.96,9.05),(4.47,9.15),(4.33,8.95),(5.23,9.0),(1.13,8.85),(1.33,8.8),(1.55,8.8),(1.83,8.75),(2.06,8.85),(2.5,8.85),(2.74,8.85),
(2.91,8.9),(3.03,8.9),(3.26,8.8),(3.77,8.85),(4.02,8.85),(4.65,8.8),(4.56,8.7),(4.34,8.6),(1.16,8.45),(1.31,8.45),(1.54,8.55),(1.69,8.6),(1.97,8.55),(2.24,8.5),(2.52,8.45),(2.64,8.65),
(3.17,8.65),(3.4,8.55),(3.69,8.5),(4.04,8.55),(4.69,8.4),(4.36,8.45),(3.54,8.45),(1.25,8.15),(1.45,8.0),(1.72,8.3),(1.91,8.3),(2.24,8.25),(2.36,8.15),(2.5,8.25),(2.68,8.15),(2.87,8.2),
(3.0,8.3),(3.09,8.15),(3.43,8.3),(4.5,8.15),(4.63,8.2),(4.12,8.1),(3.95,8.1),(5.07,8.05),(1.97,7.95),(2.39,7.8),(2.91,8.05),(3.45,7.95),(3.66,8.0),(3.75,8.0),(3.86,7.85),(4.09,7.8),(5.11,7.8),
(1.04,7.75),(1.57,7.75),(2.03,7.75),(2.7,7.9),(2.99,7.7),(3.19,7.7),(4.63,7.55),(1.27,7.55),(1.78,7.55),(2.48,7.55),(2.74,7.55),(4.05,7.5),(4.18,7.4),(4.53,7.35),(3.09,7.45),(3.31,7.45),
(3.38,7.35),(4.38,7.45),(4.97,7.4),(4.18,7.3),(2.94,7.25),(4.7,7.2),(2.09,7.3),(2.3,7.25),(2.85,7.15),(3.54,7.1),(4.18,7.0),(3.41,6.95),(4.83,6.85),(3.92,6.85),(2.76,6.85),(4.42,6.7),(3.66,6.75),
(3.96,6.65),(3.34,6.8),(2.52,6.8),(3.87,6.55),(3.61,6.55),(3.45,6.6),(4.85,6.45),(5.11,6.45),(2.93,6.5),(3.96,6.3),(4.27,6.35),(4.33,6.35),(4.53,6.35),(4.77,6.35),(2.71,6.35),(3.12,6.2),(3.38,6.2),
(3.52,6.15),(3.29,6.2),(2.94,6.2),(4.06,6.1),(4.45,6.1),(3.26,6.05),(3.13,6.0),(3.75,6.0),(2.85,5.9),(4.75,5.75),(5.07,5.7),(5.11,5.7),(2.7,5.8),(3.49,5.75),(3.78,5.65),(3.0,5.65),(3.28,5.7),(4.88,5.5),
(3.11,5.6),(3.35,5.55),(3.52,5.55),(3.78,5.5),(3.64,5.4),(5.24,5.35),(2.88,5.35),(3.16,5.35),(4.45,5.3),(4.25,5.2),(3.99,5.15),(3.51,5.25),(3.28,5.2),(3.03,5.1),(2.76,5.05),(3.64,5.0),(3.75,4.9),
(3.87,4.9),(3.22,4.95),(4.09,4.85),(3.64,4.7),(4.5,4.7),(4.2,4.6),(2.91,4.8),(3.14,4.8),(3.35,4.65),(2.7,4.55),(3.51,4.45),(4.06,4.4),(3.94,4.35),(3.62,4.3),(3.32,4.3),(2.97,4.35),(4.06,4.05),(4.16,4.0),
(4.76,4.05),(5.01,3.85),(5.24,3.75),(3.14,4.15),(2.82,4.1),(3.45,4.05),(3.63,3.95),(3.7,3.95),(3.38,3.9),(3.31,3.75),(3.06,3.8),(3.78,3.55),(3.51,3.65),(3.64,3.7),(4.23,3.55),(4.71,3.5),(2.91,3.7),(3.22,3.5),
(3.4,3.5),(4.12,3.4),(3.7,3.25),(4.59,3.1),(5.24,3.15),(4.05,3.15),(4.15,3.05),(3.98,3.0),(3.34,3.15),(3.03,3.15),(2.84,3.1),(3.6,3.1),(3.23,2.95),(3.98,2.8),(4.26,2.8),(3.58,2.75),(4.52,2.7),(5.27,2.5),
(3.05,2.7),(3.16,2.8),(3.09,2.35),(3.2,2.4),(3.38,2.4),(3.45,2.35),(2.87,2.1),(2.97,2.2),(3.72,2.15),(3.63,2.1),(3.52,1.95),(3.7,1.75),(4.38,1.7),(4.39,1.4),(3.17,1.9),(3.06,1.7),(3.21,1.5),(3.15,1.4),(2.97,1.35),
(3.64,1.1),(3.86,1.3),(3.89,1.25),(3.04,.7),(2.73,.5),(2.59,.8),(2.52,1.1),(2.38,1.05),(2.27,1.15),(2.18,1.0),(1.96,.7),(1.79,.7),(2.7,1.8),(2.85,1.7),(2.45,1.4),(2.61,1.6),
(2.33,6.2),(2.48,6.35),(2.61,5.85),(2.45,5.75),(2.59,5.15),(2.4,5.25),(2.64,4.6),(2.48,4.8),(2.82,4.4),(2.88,4.0),(2.7,3.9),(2.91,3.5),(2.75,3.3),(2.85,2.9),(2.64,3.0),(2.75,2.5),(2.58,2.4),
(2.39,1.9),(2.21,1.6),(1.17,7.25),(1.4,7.2),(1.6,7.1),(1.9,7.0),(2.1,6.6),(2.2,7.0),(1.05,6.9),(1.7,6.9),(2.05,6.1),(2.2,5.7),(2.35,4.9),(2.45,4.3),(2.6,3.6),
(5.11,9.45),(5.38,9.25),(5.22,8.95),(5.25,8.8),(5.73,9.75),(6.13,9.05),(6.61,9.4),(7.48,9.55),(7.56,9.7),(7.67,9.45),(8.02,9.3),(8.94,9.2),(10.02,9.1),(7.42,8.75),(7.64,8.75),(7.75,8.95),(7.64,8.4),(5.52,8.4),(5.07,8.05),
(5.11,7.75),(5.38,7.9),(5.46,7.65),(5.55,7.3),(5.94,8.25),(6.24,8.2),(6.17,7.9),(6.62,8.0),(6.85,8.15),(6.9,7.75),(6.87,7.15),(8.15,8.3),(8.28,8.1),(8.22,7.7),(8.35,7.1),(5.84,7.1),(6.1,6.85),(5.94,6.5),(5.97,6.4),
(5.1,6.4),(5.3,6.15),(5.73,6.0),(5.79,5.7),(6.07,5.8),(6.19,5.75),(6.23,6.25),(6.33,5.95),(6.48,6.3),(6.52,5.8),(5.06,5.65),(5.12,5.65),(5.25,5.3),(5.32,5.1),(5.37,5.15),(6.01,5.3),(6.17,4.8),(6.03,4.6),(5.42,4.3),
(5.83,4.3),(6.3,4.15),(6.43,4.25),(6.57,4.05),(5.01,3.8),(5.25,3.7),(5.35,3.45),(5.52,3.35),(5.25,3.1),(5.36,3.0),(5.35,2.8),(5.29,2.5),(5.66,2.55),(5.87,3.5),(6.06,3.25),(5.52,2.1),(5.43,1.55),(7.11,5.8),(7.39,5.85),
(7.47,6.65),(7.52,6.25),(7.64,6.45),(7.87,6.2),(8.09,6.35),(7.69,5.3),(4.26,9.5),(4.1,9.2),(4.47,9.1),(4.33,8.95),(4.64,8.85)]

black_fill_right = [(1.07,9.42),(1.25,9.55),(1.47,9.5),(1.6,9.25),(1.9,9.4),(2.1,9.35),(2.3,9.4),(2.52,9.5),(2.55,9.1),(2.83,9.25),(2.97,9.05),(1.22,9.0),(1.5,9.05),(1.78,8.95),(2.0,8.95),(2.3,8.9),(2.43,8.95),(2.68,8.85),
(2.82,8.9),(3.1,8.75),(1.0,8.55),(1.25,8.6),(1.42,8.45),(1.62,8.45),(1.83,8.45),(2.1,8.45),(2.36,8.55),(2.6,8.35),(2.77,8.55),(2.98,8.55),(3.25,8.3),(1.05,8.15),(1.18,7.85),(1.35,8.1),(1.55,8.2),(1.66,7.95),(1.83,8.1),
(2.12,8.05),(2.3,7.9),(2.48,7.9),(2.6,8.0),(2.8,7.75),(3.1,7.9),(1.1,7.55),(1.35,7.6),(1.48,7.65),(1.68,7.5),(1.9,7.6),(2.18,7.5),(2.35,7.45),(2.6,7.4),(2.85,7.5),(3.0,7.4),(3.2,7.25),(1.3,7.25),(1.5,7.35),(1.75,7.25),(1.98,7.2),
(2.15,7.15),(2.42,7.1),(2.6,7.1),(2.72,7.3),(2.95,7.0),(3.15,7.05),(2.0,6.8),(2.28,6.8),(2.42,6.7),(2.6,6.6),(2.82,6.65),(3.05,6.55),(3.2,6.75),(1.8,6.75),(2.12,6.45),(2.3,6.45),(2.55,6.3),(2.78,6.2),(3.0,6.3),
(2.1,6.1),(2.2,6.0),(2.38,5.95),(2.52,6.05),(2.72,5.95),(3.05,5.95),(2.18,5.4),(2.28,5.5),(2.5,5.5),(2.65,5.5),(2.83,5.65),(2.95,5.4),(2.3,5.0),(2.5,5.05),(2.62,4.9),(2.85,5.0),(2.97,4.85),(3.1,5.0),
(2.42,4.5),(2.55,4.6),(2.78,4.7),(2.92,4.55),(3.05,4.55),(3.2,4.45),(2.55,4.1),(2.65,4.2),(2.78,4.0),(3.0,4.1),(3.2,4.2),(2.6,3.7),(2.8,3.7),(3.0,3.5),(3.1,3.65),(2.7,3.45),(2.85,3.3),(2.95,3.2),(3.12,3.2),
(2.72,2.95),(2.92,2.9),(3.0,2.6),(2.85,2.5),(2.65,2.65),(2.5,2.1),(2.65,2.2),(2.78,2.3),(2.45,1.85),(2.55,1.7),(2.72,1.4),(2.85,1.35),(2.35,1.5),(2.1,1.35),(2.45,1.05),
(1.12,8.12),(1.42,7.82),(1.6,7.9),(1.75,7.85),(1.92,7.92),(2.0,8.2),(2.2,7.85),(2.42,8.02),(2.55,7.72),(2.72,7.62),(2.92,7.62),(3.05,8.05),(3.15,7.55),(1.2,7.42),(1.42,7.42),(1.58,7.45),(1.82,7.32),(2.02,7.42),(2.25,7.62),
(2.45,7.25),(2.68,7.5),(2.78,7.0),(3.05,7.2),(3.25,7.6),(1.62,6.92),(1.85,6.98),(2.05,6.95),(2.18,6.72),(2.35,6.95),(2.52,6.95),(2.68,6.85),(2.88,6.85),(3.1,6.8),(3.28,6.5),(1.98,6.42),(2.22,6.5),(2.4,6.4),(2.62,6.3),
(2.8,6.42),(2.92,6.25),(3.18,6.4),(2.02,5.85),(2.28,5.82),(2.42,5.55),(2.55,5.72),(2.78,5.72),(2.95,5.85),(3.18,5.8),(2.12,5.3),(2.35,5.35),(2.55,5.3),(2.72,5.3),(2.88,5.18),(3.08,5.35),(2.25,4.72),(2.42,4.7),(2.58,4.88),
(2.72,4.82),(2.9,5.05),(3.05,4.75),(3.25,4.7),(2.48,4.35),(2.62,4.38),(2.75,4.25),(2.92,4.2),(3.1,4.3),(3.28,4.1),(2.52,3.85),(2.7,3.65),(2.85,3.75),(3.02,3.85),(3.18,3.85),(2.62,3.3),(2.78,3.12),(2.98,3.32),(3.1,3.0),
(3.25,3.2),(2.58,2.85),(2.8,2.72),(2.95,2.75),(3.1,2.5),(2.42,2.4),(2.55,2.55),(2.7,2.45),(2.95,2.35),(2.38,2.05),(2.6,1.95),(2.78,1.95),(2.92,1.8),(2.3,1.75),(2.5,1.4),(2.65,1.25),(2.78,1.1),(2.3,1.25)]

dense_left_x = [-0.02,-.1,-.25,-.5,-.63,-.75,-.9,-1.0,-1.15,-1.29,-1.49,-1.69,-1.88,-2.02,-2.05,-1.96,-1.6,-1.29,-1.0,-.69,-.4,-.15,-.02]
dense_left_y = [0,.3,1.4,3.9,5.0,5.6,7.0,7.6,7.3,6.8,5.6,4.25,2.8,1.6,.9,.75,.45,.28,.18,.08,.03,.02,0]
dense_right_x = [.02,.1,.25,.5,.63,.75,.8,.9,1.0,1.25,1.5,1.75,1.9,2.1,2.3,2.55,2.7,2.75,2.6,2.2,1.97,1.78,1.57,1.23,1.0,.5,.15,.02]
dense_right_y = [0,.3,1.4,3.9,5.0,5.6,6.1,6.9,7.2,6.9,6.6,6.1,5.6,4.9,4.2,3.4,2.9,2.0,1.0,.95,.7,.65,.5,.3,.2,.05,.02,0]

# ---------- bar chart data ----------
go_terms = ["vesicle-mediated transport in synapse","synaptic vesicle cycle","regulation of trans-synaptic signaling",
            "modulation of chemical synaptic transmission","chromosome segregation","synaptic vesicle exocytosis",
            "mitotic nuclear division","regulation of synaptic plasticity","mitotic cell cycle phase transition",
            "signal release from synapse","organelle fission","nuclear chromosome segregation","neurotransmitter secretion",
            "sister chromatid segregation","nuclear division","mitotic sister chromatid segregation","spindle organization",
            "microtubule cytoskeleton organization involved in mitosis","negative regulation of cell cycle process",
            "regulation of chromosome segregation"]
go_counts = [56,52,82,82,72,28,53,41,70,33,72,57,33,48,66,41,40,35,50,30]
go_padj = [1e-9,2e-9,4e-9,5e-9,2e-8,5e-8,1.2e-7,1.5e-7,1.6e-7,1.7e-7,1.8e-7,1.9e-7,2e-7,2.2e-7,2.8e-7,4.5e-7,4.6e-7,1.0e-6,1.7e-6,1.96e-6]
go_ticks = [5e-7,1e-6,1.5e-6]
go_ticklabels = ["5 x 10$^{-7}$","1 x 10$^{-6}$","1.5 x 10$^{-6}$"]

kegg_terms = ["Cell cycle","Oocyte meiosis","Human immunodeficiency virus 1 infection","Glutamatergic synapse","Long-term potentiation",
              "Vibrio cholerae infection","Motor proteins","Aldosterone synthesis and secretion","Phosphatidylinositol signaling system",
              "Progesterone-mediated oocyte maturation","Cellular senescence","Synaptic vesicle cycle","MicroRNAs in cancer",
              "Dopaminergic synapse","Circadian entrainment","Oxytocin signaling pathway","MAPK signaling pathway","Salivary secretion",
              "Renin secretion","Amphetamine addiction"]
kegg_counts = [37,29,36,23,16,13,28,19,19,18,25,15,25,21,17,23,37,14,13,13]
kegg_padj = [2.5e-4,2.5e-4,2.6e-4,3e-4,5e-4,7e-4,7.2e-4,7.4e-4,7.6e-4,1.5e-3,1.55e-3,2.5e-3,2.5e-3,2.6e-3,3.2e-3,3.45e-3,3.7e-3,4.69e-3,4.69e-3,4.69e-3]
kegg_ticks = [1e-3,2e-3,3e-3,4e-3]
kegg_ticklabels = ["1 x 10$^{-3}$","2 x 10$^{-3}$","3 x 10$^{-3}$","4 x 10$^{-3}$"]

GRID = "#ececec"
TICK = "#4d4d4d"
cmap = LinearSegmentedColormap.from_list("navy_yellow", ["#00204D","#3a4768","#7e7c72","#bdb06a","#FFE945"])

fig = plt.figure(figsize=(W/DPI, H/DPI), dpi=DPI, facecolor="white")

def px_axes(l, t, r, b):
    return fig.add_axes([l/W, 1-b/H, (r-l)/W, (b-t)/H])

def ftext(x, y, s, **kw):
    return fig.text(x/W, 1-y/H, s, **kw)

def clean(ax):
    for s in ax.spines.values():
        s.set_visible(False)
    ax.set_axisbelow(True)

# ---------- A: volcano ----------
ax = px_axes(687, 131, 3805, 2344)
clean(ax)
ax.set_xlim(-7.04, 11.58)
ax.set_ylim(-3.04, 63.0)
ax.set_xticks([-5,0,5,10]); ax.set_xticklabels(["-5","0","5","10"])
ax.set_yticks([0,20,40,60])
ax.set_xticks([-2.5,2.5,7.5], minor=True)
ax.set_yticks([10,30,50], minor=True)
ax.grid(True, which="major", color=GRID, lw=0.9)
ax.grid(True, which="minor", color=GRID, lw=0.5)
ax.tick_params(which="both", length=0)
ax.tick_params(axis="both", labelsize=12, labelcolor=TICK)
ax.tick_params(axis="x", pad=4.5)
ax.tick_params(axis="y", pad=3)

black_all = np.array(black_far_left + black_mid_left + black_fill_left + black_right + black_fill_right)
red_all = np.array(red_far_left + red_mid_left + red_low_left + red_inner_right + red_outer_right)
MS = 6.2
ax.fill(dense_left_x, dense_left_y, color="black", lw=1.5, zorder=2)
ax.fill(dense_right_x, dense_right_y, color="black", lw=1.5, zorder=2)
ax.scatter(black_all[:,0], black_all[:,1], s=MS, c="black", linewidths=0, zorder=3)
ax.scatter(red_all[:,0], red_all[:,1], s=MS, c="#ff0000", linewidths=0, zorder=3)
ax.scatter(gene_x, gene_y, s=MS, c="#ff0000", linewidths=0, zorder=3)
dash = (0, (3.0, 1.56))
for v in (-1, 1):
    ax.axvline(v, color="#1414ff", lw=1.1, ls=dash, zorder=4)
ax.axhline(10, color="#1414ff", lw=1.1, ls=dash, zorder=4)
for n, x, y in zip(gene_names, gene_x, gene_y):
    ax.annotate(n, (x, y), xytext=(0, 6.6), textcoords="offset points", ha="center", va="center",
                fontsize=11.8, color="black", zorder=5)

ftext(690, 75, "Volcano Plot Highlighting Significant Changes in NT vs TP", fontsize=20.6, va="center", ha="left", color="black")
ftext(2247, 2444, "log2FoldChange", fontsize=16.5, va="center", ha="center", color="black")
ftext(575, 1240, "-log10(padj-value)", fontsize=16.7, va="center", ha="center", rotation=90, color="black")
letter_font = ["Lato", "DejaVu Sans"]
ftext(239, 204, "A", fontsize=26, family=letter_font, va="center", ha="center")
ftext(254, 2579, "B", fontsize=26, family=letter_font, va="center", ha="center")
ftext(2288, 2597, "C", fontsize=26, family=letter_font, va="center", ha="center")

# ---------- B / C: bars ----------
go_label_sizes = {"modulation of chemical synaptic transmission": 8.0,
                  "microtubule cytoskeleton organization involved in mitosis": 6.6}

def bars(rect, terms, counts, padj, norm, xmaj, xmin, xlim, sizes=None):
    a = px_axes(*rect)
    clean(a)
    y = np.arange(len(terms))
    a.barh(y, counts, height=0.9, color=cmap(norm(np.array(padj))), zorder=3)
    a.set_ylim(len(terms)-0.4, -0.6)
    a.set_xlim(*xlim)
    a.set_yticks(y); a.set_yticklabels(terms)
    a.set_xticks(xmaj); a.set_xticks(xmin, minor=True)
    a.grid(True, which="major", color=GRID, lw=0.6)
    a.grid(True, which="minor", axis="x", color=GRID, lw=0.35)
    a.tick_params(which="both", length=0)
    a.tick_params(axis="y", labelsize=9.0, labelcolor=TICK, pad=3.0)
    a.tick_params(axis="x", labelsize=8.7, labelcolor=TICK, pad=5.5)
    if sizes:
        for lab in a.get_yticklabels():
            if lab.get_text() in sizes:
                lab.set_fontsize(sizes[lab.get_text()])
    return a

norm_go = Normalize(0, 1.96e-6)
norm_kegg = Normalize(2.5e-4, 4.69e-3)
bars((1035, 2726, 1878, 4775), go_terms, go_counts, go_padj, norm_go, [0,20,40,60,80], [10,30,50,70], (-4.1, 86.1), go_label_sizes)
bars((2984, 2726, 4079, 4775), kegg_terms, kegg_counts, kegg_padj, norm_kegg, [0,10,20,30], [5,15,25,35], (-1.85, 38.85))

ftext(1454, 2690, "Highlighting Significant GO Terms BP; NT vs TP", fontsize=10.3, fontweight="bold", va="center", ha="center")
ftext(3532, 2690, "Highlighting Significant KEGG Pathways;  NT vs TP", fontsize=10.35, fontweight="bold", va="center", ha="center")
ftext(1453, 4855, "Count", fontsize=9.2, fontweight="bold", va="center", ha="center")
ftext(3532, 4855, "Count", fontsize=9.2, fontweight="bold", va="center", ha="center")
ftext(52, 3742, "Term Name", fontsize=9, fontweight="bold", va="center", ha="center", rotation=90)
ftext(2246, 3750, "Pathway", fontsize=9, fontweight="bold", va="center", ha="center", rotation=90)

def cbar(rect, norm, ticks, labels, title, tx, ty, lsize, pad):
    c = px_axes(*rect)
    cb = fig.colorbar(ScalarMappable(norm=norm, cmap=cmap), cax=c)
    cb.outline.set_visible(False)
    c.invert_yaxis()
    cb.set_ticks(ticks); cb.set_ticklabels(labels)
    c.tick_params(direction="in", left=True, right=True, color="white", width=0.4, length=2.5,
                  labelsize=lsize, labelcolor="black", pad=pad)
    ftext(tx, ty, title, fontsize=8.0, va="center", ha="left")

cbar((1922, 3652, 1969, 3892), norm_go, go_ticks, go_ticklabels, "Adjusted P-value", 1905, 3601, 8.3, 4.3)
cbar((4123, 3665, 4169, 3894), norm_kegg, kegg_ticks, kegg_ticklabels, "Adjusted P-value", 4068, 3622, 8.0, 6)

fig.savefig("out.png", dpi=DPI, facecolor="white")
